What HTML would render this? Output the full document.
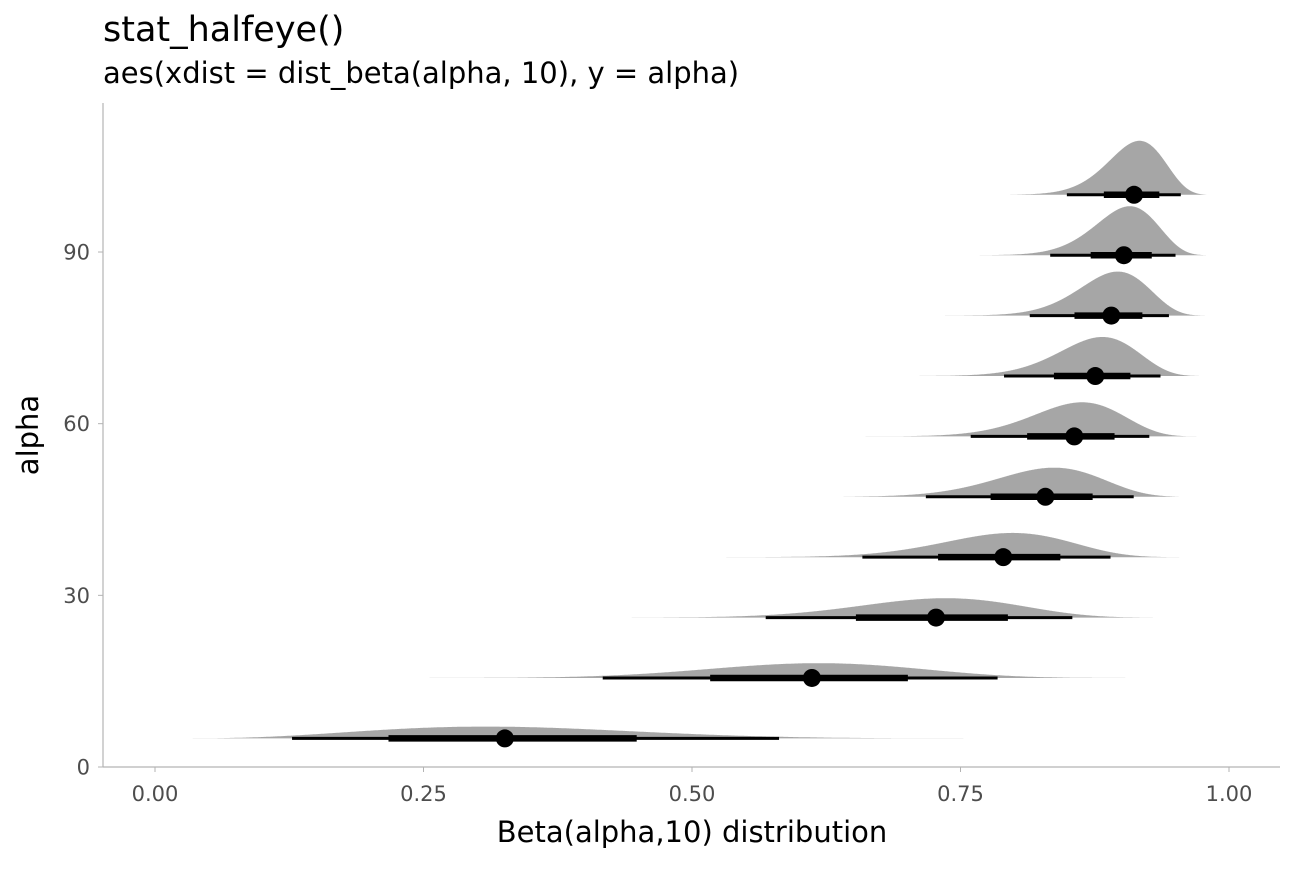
<!DOCTYPE html>
<html><head><meta charset="utf-8"><style>
body{margin:0;background:#fff;}
svg text{font-family:"DejaVu Sans","Liberation Sans",sans-serif;}
</style></head><body>
<svg width="1296" height="864" viewBox="0 0 1296 864" xmlns="http://www.w3.org/2000/svg">
<text x="103" y="41" font-size="35" fill="#000">stat_halfeye()</text>
<text x="103" y="83" font-size="29" fill="#000">aes(xdist = dist_beta(alpha, 10), y = alpha)</text>
<g id="marks"></g>
<line x1="103" y1="103" x2="103" y2="767" stroke="#b3b3b3" stroke-width="1.2"/>
<line x1="103" y1="767" x2="1280" y2="767" stroke="#b3b3b3" stroke-width="1.2"/>
<g id="axes"></g>
<text x="692" y="842" font-size="29" text-anchor="middle" fill="#000">Beta(alpha,10) distribution</text>
<text transform="translate(38,435) rotate(-90)" font-size="29" text-anchor="middle" fill="#000">alpha</text>
</svg>
<script>
const alphas=[5,15.56,26.11,36.67,47.22,57.78,68.33,78.89,89.44,100];
const betaParam=10;
const xTicks=[0,0.25,0.5,0.75,1];
const xTickLabels=["0.00","0.25","0.50","0.75","1.00"];
const yTicks=[0,30,60,90];
const yTickLabels=["0","30","60","90"];
const NS="http://www.w3.org/2000/svg";
function sx(v){return 155+v*1074;}
function sy(v){return 767-v*5.722;}
function lgamma(z){const g=7,c=[0.99999999999980993,676.5203681218851,-1259.1392167224028,771.32342877765313,-176.61502916214059,12.507343278686905,-0.13857109526572012,9.9843695780195716e-6,1.5056327351493116e-7];
 z-=1;let x=c[0];for(let i=1;i<9;i++)x+=c[i]/(z+i);const t=z+g+0.5;return 0.5*Math.log(2*Math.PI)+(z+0.5)*Math.log(t)-t+Math.log(x);}
function pdf(x,a,b){if(x<=0||x>=1)return 0;return Math.exp((a-1)*Math.log(x)+(b-1)*Math.log(1-x)+lgamma(a+b)-lgamma(a)-lgamma(b));}
const N=4000;
function el(t,at,p){const e=document.createElementNS(NS,t);for(const k in at)e.setAttribute(k,at[k]);p.appendChild(e);return e;}
const marks=document.getElementById('marks'),axes=document.getElementById('axes');
let info=alphas.map(a=>{let xs=[],ds=[],cdf=[0];for(let i=0;i<=N;i++){const x=i/N;xs.push(x);ds.push(pdf(x,a,betaParam));}
 for(let i=1;i<=N;i++)cdf.push(cdf[i-1]+(ds[i]+ds[i-1])/2/N);const tot=cdf[N];
 const q=p=>{for(let i=1;i<=N;i++)if(cdf[i]/tot>=p){const f=(p*tot-cdf[i-1])/(cdf[i]-cdf[i-1]);return (i-1+f)/N;}return 1;};
 return {a,xs,ds,q,max:Math.max(...ds)};});
const gmax=Math.max(...info.map(d=>d.max));
info.forEach((d,k)=>{const y0=sy(d.a);const lo=d.q(0.00002),hi=d.q(0.99998);
 let pts=[[sx(lo),y0]];for(let i=0;i<=N;i++){const x=d.xs[i];if(x<lo||x>hi)continue;pts.push([sx(x),y0-d.ds[i]/gmax*54]);}
 pts.push([sx(hi),y0]);
 const s=el('polygon',{points:pts.map(p=>p[0].toFixed(1)+','+p[1].toFixed(1)).join(' '),fill:'#a6a6a6'},marks);
 
 
 const l1=el('line',{x1:sx(d.q(0.025)),x2:sx(d.q(0.975)),y1:y0,y2:y0,stroke:'#000','stroke-width':3},marks);
 
 
 const l2=el('line',{x1:sx(d.q(0.17)),x2:sx(d.q(0.83)),y1:y0,y2:y0,stroke:'#000','stroke-width':6.5},marks);
 
 
 const c=el('circle',{cx:sx(d.q(0.5)),cy:y0,r:9,fill:'#000'},marks);
 
 
});
xTicks.forEach((v,i)=>{const t=el('line',{x1:sx(v),x2:sx(v),y1:767,y2:772,stroke:'#b3b3b3'},axes);
 
 
 const tx=el('text',{x:sx(v),y:801,'font-size':21,'text-anchor':'middle',fill:'#4d4d4d'},axes);tx.textContent=xTickLabels[i];
 
 });
yTicks.forEach((v,i)=>{const t=el('line',{x1:98,x2:103,y1:sy(v),y2:sy(v),stroke:'#b3b3b3'},axes);
 
 
 const tx=el('text',{x:90,y:sy(v)+7.5,'font-size':21,'text-anchor':'end',fill:'#4d4d4d'},axes);tx.textContent=yTickLabels[i];
 
 });
</script>
</body></html>
